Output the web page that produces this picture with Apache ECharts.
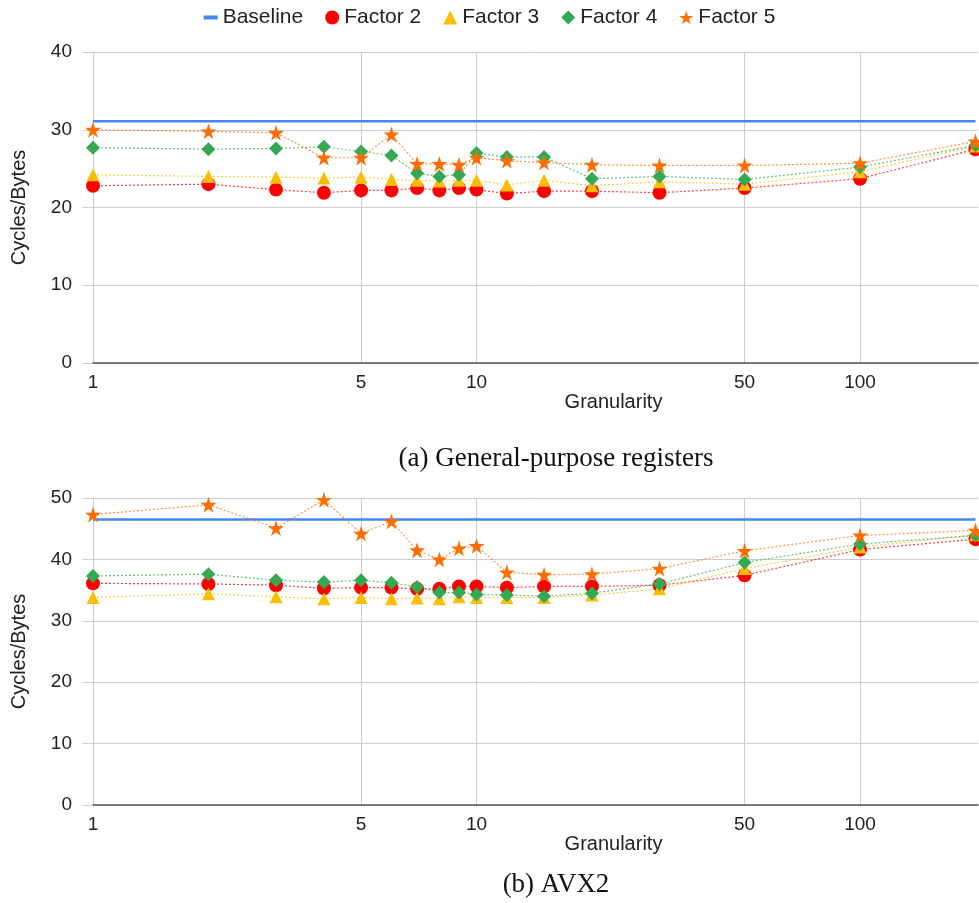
<!DOCTYPE html>
<html>
<head>
<meta charset="utf-8">
<script src="https://cdn.jsdelivr.net/npm/echarts@6/dist/echarts.min.js"></script>
<style>html,body{margin:0;padding:0;background:#fff}#c{width:979px;height:903px}</style>
</head>
<body>
<div id="c"></div>
<script>
// Granularity values (x, log scale)
const granularity = [1, 2, 3, 4, 5, 6, 7, 8, 9, 10, 12, 15, 20, 30, 50, 100, 200];
const xTickValues = [1, 5, 10, 50, 100];

// (a) General-purpose registers
const gprBaseline = 31.1;
const gprFactor2 = [22.8, 23.0, 22.3, 21.9, 22.2, 22.2, 22.5, 22.2, 22.5, 22.3, 21.8, 22.1, 22.1, 21.9, 22.5, 23.7, 27.5];
const gprFactor3 = [24.2, 24.0, 23.9, 23.8, 23.9, 23.6, 23.5, 23.4, 23.5, 23.5, 22.9, 23.5, 22.8, 23.3, 23.0, 24.6, 27.9];
const gprFactor4 = [27.7, 27.5, 27.6, 27.8, 27.2, 26.7, 24.4, 24.0, 24.2, 27.0, 26.5, 26.5, 23.7, 24.0, 23.6, 25.2, 28.0];
const gprFactor5 = [30.0, 29.8, 29.6, 26.4, 26.4, 29.4, 25.6, 25.6, 25.5, 26.4, 26.0, 25.8, 25.5, 25.4, 25.4, 25.7, 28.5];

// (b) AVX2
const avxBaseline = 46.5;
const avxFactor2 = [36.1, 36.0, 35.8, 35.3, 35.4, 35.4, 35.2, 35.2, 35.6, 35.6, 35.4, 35.6, 35.6, 35.8, 37.4, 41.6, 43.3];
const avxFactor3 = [33.8, 34.4, 33.9, 33.6, 33.8, 33.6, 33.7, 33.6, 33.9, 33.8, 33.8, 33.8, 34.2, 35.2, 38.5, 42.0, 44.0];
const avxFactor4 = [37.3, 37.6, 36.6, 36.3, 36.6, 36.2, 35.5, 34.6, 34.6, 34.3, 34.2, 34.0, 34.5, 36.0, 39.5, 42.5, 43.9];
const avxFactor5 = [47.3, 48.9, 45.1, 49.7, 44.2, 46.2, 41.5, 40.0, 41.8, 42.2, 37.9, 37.5, 37.6, 38.5, 41.4, 43.9, 44.7];

const yMaxTop = 40, yMaxBottom = 50;
const captions = ['(a) General-purpose registers', '(b) AVX2'];

const C = {base: '#4285F4', f2: '#FF0000', f3: '#FBBC04', f4: '#34A853', f5: '#FF6D01'};
const STAR = 'path://M50,0 L61.2,34.5 L97.6,34.5 L68.2,55.9 L79.4,90.5 L50,69.1 L20.6,90.5 L31.8,55.9 L2.4,34.5 L38.8,34.5 Z';
const FONT = '"Liberation Sans", Arial, sans-serif';

function pairs(vals) { return granularity.map((g, i) => [g, vals[i]]); }
function baseLine(v) { return [[granularity[0], v], [granularity[granularity.length - 1], v]]; }

function factorSeries(name, vals, color, symbol, size, idx) {
  return {
    name: name, type: 'line', xAxisIndex: idx, yAxisIndex: idx,
    data: pairs(vals), symbol: symbol, symbolSize: size, showSymbol: true,
    itemStyle: {color: color, opacity: 1},
    lineStyle: {color: color, width: 1.2, type: [2, 2], opacity: 0.75},
    animation: false
  };
}
function baselineSeries(v, idx) {
  return {
    name: 'Baseline', type: 'line', xAxisIndex: idx, yAxisIndex: idx,
    data: baseLine(v), showSymbol: false, symbol: 'none',
    itemStyle: {color: C.base},
    lineStyle: {color: C.base, width: 2.5}, animation: false
  };
}

function xAxis(idx, gap) {
  return {
    type: 'log', logBase: 10, gridIndex: idx, min: 1, max: 203,
    name: 'Granularity', nameLocation: 'middle', nameGap: gap,
    nameTextStyle: {fontFamily: FONT, fontSize: 20, color: '#222', padding: [0, 0, 0, 156]},
    axisLine: {show: true, lineStyle: {color: '#555', width: 1.5}},
    axisTick: {show: false, customValues: xTickValues},
    axisLabel: {customValues: xTickValues, fontFamily: FONT, fontSize: 19, color: '#222', margin: 10},
    splitLine: {show: true, lineStyle: {color: '#cccccc', width: 1}},
    minorSplitLine: {show: false}
  };
}
function yAxis(idx, max) {
  return {
    type: 'value', gridIndex: idx, min: 0, max: max, interval: 10,
    name: 'Cycles/Bytes', nameLocation: 'middle', nameGap: 64,
    nameTextStyle: {fontFamily: FONT, fontSize: 20, color: '#222'},
    axisLine: {show: false},
    axisTick: {show: true, length: 10, lineStyle: {color: '#cccccc'}},
    axisLabel: {fontFamily: FONT, fontSize: 19, color: '#222', margin: 21},
    splitLine: {show: true, lineStyle: {color: '#cccccc', width: 1}}
  };
}

const chart = echarts.init(document.getElementById('c'), null, {renderer: 'canvas'});
chart.setOption({
  backgroundColor: '#fff',
  animation: false,
  legend: {
    top: 2, left: 'center', itemGap: 22, itemWidth: 14, itemHeight: 14,
    textStyle: {fontFamily: FONT, fontSize: 21, color: '#222'},
    data: [
      {name: 'Baseline', icon: 'path://M0,0M0,14M0,5h14v4h-14z'},
      {name: 'Factor 2', icon: 'circle'},
      {name: 'Factor 3', icon: 'triangle'},
      {name: 'Factor 4', icon: 'diamond'},
      {name: 'Factor 5', icon: STAR}
    ]
  },
  grid: [
    {left: 93, right: 1, top: 52, height: 311, containLabel: false},
    {left: 93, right: 1, top: 498, height: 307, containLabel: false}
  ],
  xAxis: [xAxis(0, 25), xAxis(1, 28)],
  yAxis: [yAxis(0, yMaxTop), yAxis(1, yMaxBottom)],
  graphic: [
    {type: 'text', x: 556, y: 459, style: {text: captions[0], font: '27px "Liberation Serif", serif', fill: '#111', align: 'center', verticalAlign: 'middle'}},
    {type: 'text', x: 556, y: 885, style: {text: captions[1], font: '27px "Liberation Serif", serif', fill: '#111', align: 'center', verticalAlign: 'middle'}}
  ],
  series: [
    baselineSeries(gprBaseline, 0),
    factorSeries('Factor 2', gprFactor2, C.f2, 'circle', 14, 0),
    factorSeries('Factor 3', gprFactor3, C.f3, 'triangle', 13, 0),
    factorSeries('Factor 4', gprFactor4, C.f4, 'diamond', 14, 0),
    factorSeries('Factor 5', gprFactor5, C.f5, STAR, 16, 0),
    baselineSeries(avxBaseline, 1),
    factorSeries('Factor 2', avxFactor2, C.f2, 'circle', 14, 1),
    factorSeries('Factor 3', avxFactor3, C.f3, 'triangle', 13, 1),
    factorSeries('Factor 4', avxFactor4, C.f4, 'diamond', 14, 1),
    factorSeries('Factor 5', avxFactor5, C.f5, STAR, 16, 1)
  ]
});
</script>
</body>
</html>
